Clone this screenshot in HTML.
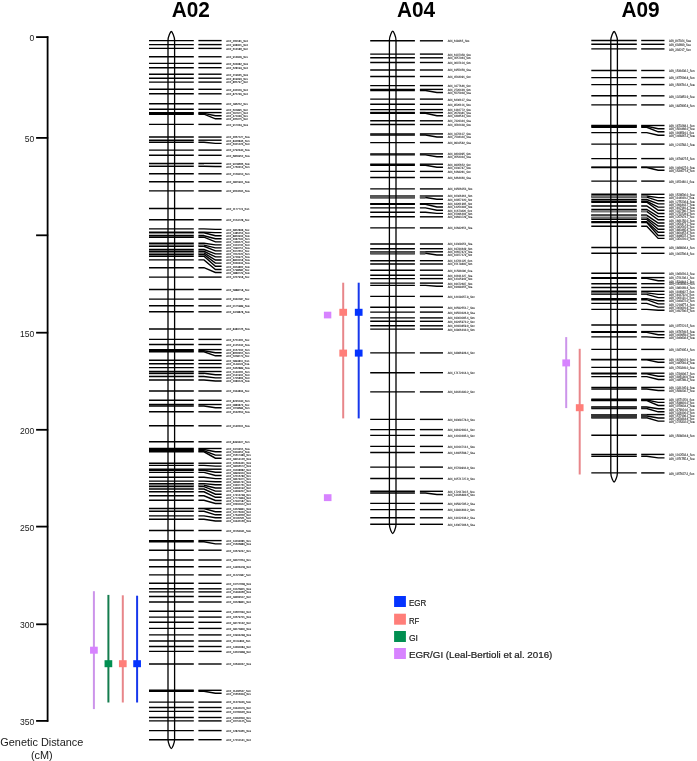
<!DOCTYPE html><html><head><meta charset="utf-8"><title>QTL map</title><style>html,body{margin:0;padding:0;background:#fff;}body{width:697px;height:761px;overflow:hidden;}svg{display:block;will-change:opacity;opacity:0.999;font-family:"Liberation Sans",sans-serif;}text{-webkit-font-smoothing:antialiased;}.lab{opacity:0.999;will-change:opacity;}</style></head><body>
<svg width="697" height="761" viewBox="0 0 697 761">
<rect width="697" height="761" fill="#fff"/>
<g stroke="#000" stroke-width="1.8" fill="none">
<line x1="47.6" y1="36.2" x2="47.6" y2="721.8"/>
<line x1="36.1" y1="37.1" x2="48.2" y2="37.1"/>
<line x1="36.1" y1="137.9" x2="48.2" y2="137.9"/>
<line x1="36.1" y1="235.3" x2="48.2" y2="235.3"/>
<line x1="36.1" y1="332.7" x2="48.2" y2="332.7"/>
<line x1="36.1" y1="429.8" x2="48.2" y2="429.8"/>
<line x1="36.1" y1="526.6" x2="48.2" y2="526.6"/>
<line x1="36.1" y1="624.3" x2="48.2" y2="624.3"/>
<line x1="36.1" y1="720.9" x2="48.2" y2="720.9"/>
</g>
<g class="lab" font-size="8.6" fill="#1a1a1a" text-anchor="end">
<text x="34.4" y="41.1">0</text>
<text x="34.4" y="141.9">50</text>
<text x="34.4" y="336.7">150</text>
<text x="34.4" y="433.8">200</text>
<text x="34.4" y="530.6">250</text>
<text x="34.4" y="628.3">300</text>
<text x="34.4" y="724.9">350</text>
</g>
<g class="lab"><text x="41.8" y="745.9" font-size="10.9" fill="#1a1a1a" text-anchor="middle">Genetic Distance</text>
<text x="41.8" y="758.6" font-size="10.9" fill="#1a1a1a" text-anchor="middle">(cM)</text></g>
<g class="lab" font-size="22.6" font-weight="bold" fill="#000">
<text x="171.7" y="17.2" textLength="38.2" lengthAdjust="spacingAndGlyphs">A02</text>
<text x="396.9" y="17.2" textLength="38.2" lengthAdjust="spacingAndGlyphs">A04</text>
<text x="621.4" y="17.2" textLength="38.2" lengthAdjust="spacingAndGlyphs">A09</text>
</g>
<g stroke="#000" stroke-width="1.4" fill="none">
<line x1="149.0" y1="40.6" x2="193.8" y2="40.6"/>
<line x1="149.0" y1="44.6" x2="193.8" y2="44.6"/>
<line x1="149.0" y1="48.4" x2="193.8" y2="48.4"/>
<line x1="149.0" y1="56.75" x2="193.8" y2="56.75"/>
<line x1="149.0" y1="63.4" x2="193.8" y2="63.4"/>
<line x1="149.0" y1="67.7" x2="193.8" y2="67.7"/>
<line x1="149.0" y1="74.2" x2="193.8" y2="74.2"/>
<line x1="149.0" y1="78.2" x2="193.8" y2="78.2"/>
<line x1="149.0" y1="82.1" x2="193.8" y2="82.1"/>
<line x1="149.0" y1="89.3" x2="193.8" y2="89.3"/>
<line x1="149.0" y1="93.8" x2="193.8" y2="93.8"/>
<line x1="149.0" y1="103.8" x2="193.8" y2="103.8"/>
<line x1="149.0" y1="109.3" x2="193.8" y2="109.3"/>
<line x1="149.0" y1="112.6" x2="193.8" y2="112.6"/>
<line x1="149.0" y1="113.4" x2="193.8" y2="113.4"/>
<line x1="149.0" y1="114.2" x2="193.8" y2="114.2"/>
<line x1="149.0" y1="124.4" x2="193.8" y2="124.4"/>
<line x1="149.0" y1="137.05" x2="193.8" y2="137.05"/>
<line x1="149.0" y1="140.2" x2="193.8" y2="140.2"/>
<line x1="149.0" y1="142.3" x2="193.8" y2="142.3"/>
<line x1="149.0" y1="150.1" x2="193.8" y2="150.1"/>
<line x1="149.0" y1="155.3" x2="193.8" y2="155.3"/>
<line x1="149.0" y1="163.4" x2="193.8" y2="163.4"/>
<line x1="149.0" y1="166.2" x2="193.8" y2="166.2"/>
<line x1="149.0" y1="173.8" x2="193.8" y2="173.8"/>
<line x1="149.0" y1="181.7" x2="193.8" y2="181.7"/>
<line x1="149.0" y1="190.9" x2="193.8" y2="190.9"/>
<line x1="149.0" y1="208.5" x2="193.8" y2="208.5"/>
<line x1="149.0" y1="219.8" x2="193.8" y2="219.8"/>
<line x1="149.0" y1="228.9" x2="193.8" y2="228.9"/>
<line x1="149.0" y1="232.1" x2="193.8" y2="232.1"/>
<line x1="149.0" y1="232.8" x2="193.8" y2="232.8"/>
<line x1="149.0" y1="235.8" x2="193.8" y2="235.8"/>
<line x1="149.0" y1="237.2" x2="193.8" y2="237.2"/>
<line x1="149.0" y1="243.3" x2="193.8" y2="243.3"/>
<line x1="149.0" y1="245.1" x2="193.8" y2="245.1"/>
<line x1="149.0" y1="246.3" x2="193.8" y2="246.3"/>
<line x1="149.0" y1="249.5" x2="193.8" y2="249.5"/>
<line x1="149.0" y1="251.3" x2="193.8" y2="251.3"/>
<line x1="149.0" y1="253" x2="193.8" y2="253"/>
<line x1="149.0" y1="254.5" x2="193.8" y2="254.5"/>
<line x1="149.0" y1="256.2" x2="193.8" y2="256.2"/>
<line x1="149.0" y1="259.9" x2="193.8" y2="259.9"/>
<line x1="149.0" y1="267.7" x2="193.8" y2="267.7"/>
<line x1="149.0" y1="277.1" x2="193.8" y2="277.1"/>
<line x1="149.0" y1="289.5" x2="193.8" y2="289.5"/>
<line x1="149.0" y1="299.1" x2="193.8" y2="299.1"/>
<line x1="149.0" y1="305.8" x2="193.8" y2="305.8"/>
<line x1="149.0" y1="311.8" x2="193.8" y2="311.8"/>
<line x1="149.0" y1="329" x2="193.8" y2="329"/>
<line x1="149.0" y1="339.4" x2="193.8" y2="339.4"/>
<line x1="149.0" y1="344.5" x2="193.8" y2="344.5"/>
<line x1="149.0" y1="349.6" x2="193.8" y2="349.6"/>
<line x1="149.0" y1="350.7" x2="193.8" y2="350.7"/>
<line x1="149.0" y1="351.8" x2="193.8" y2="351.8"/>
<line x1="149.0" y1="360.3" x2="193.8" y2="360.3"/>
<line x1="149.0" y1="363.7" x2="193.8" y2="363.7"/>
<line x1="149.0" y1="367.6" x2="193.8" y2="367.6"/>
<line x1="149.0" y1="371.5" x2="193.8" y2="371.5"/>
<line x1="149.0" y1="373.3" x2="193.8" y2="373.3"/>
<line x1="149.0" y1="376.5" x2="193.8" y2="376.5"/>
<line x1="149.0" y1="380" x2="193.8" y2="380"/>
<line x1="149.0" y1="391" x2="193.8" y2="391"/>
<line x1="149.0" y1="400.3" x2="193.8" y2="400.3"/>
<line x1="149.0" y1="404.5" x2="193.8" y2="404.5"/>
<line x1="149.0" y1="406" x2="193.8" y2="406"/>
<line x1="149.0" y1="411.8" x2="193.8" y2="411.8"/>
<line x1="149.0" y1="425.8" x2="193.8" y2="425.8"/>
<line x1="149.0" y1="441.8" x2="193.8" y2="441.8"/>
<line x1="149.0" y1="448.5" x2="193.8" y2="448.5"/>
<line x1="149.0" y1="449.5" x2="193.8" y2="449.5"/>
<line x1="149.0" y1="450.8" x2="193.8" y2="450.8"/>
<line x1="149.0" y1="451.8" x2="193.8" y2="451.8"/>
<line x1="149.0" y1="463.2" x2="193.8" y2="463.2"/>
<line x1="149.0" y1="465.4" x2="193.8" y2="465.4"/>
<line x1="149.0" y1="469.2" x2="193.8" y2="469.2"/>
<line x1="149.0" y1="470.3" x2="193.8" y2="470.3"/>
<line x1="149.0" y1="472.4" x2="193.8" y2="472.4"/>
<line x1="149.0" y1="477.2" x2="193.8" y2="477.2"/>
<line x1="149.0" y1="481.1" x2="193.8" y2="481.1"/>
<line x1="149.0" y1="483.6" x2="193.8" y2="483.6"/>
<line x1="149.0" y1="485.3" x2="193.8" y2="485.3"/>
<line x1="149.0" y1="486.6" x2="193.8" y2="486.6"/>
<line x1="149.0" y1="489.0" x2="193.8" y2="489.0"/>
<line x1="149.0" y1="491.8" x2="193.8" y2="491.8"/>
<line x1="149.0" y1="495.8" x2="193.8" y2="495.8"/>
<line x1="149.0" y1="500.3" x2="193.8" y2="500.3"/>
<line x1="149.0" y1="508.4" x2="193.8" y2="508.4"/>
<line x1="149.0" y1="508.6" x2="193.8" y2="508.6"/>
<line x1="149.0" y1="511.3" x2="193.8" y2="511.3"/>
<line x1="149.0" y1="515.9" x2="193.8" y2="515.9"/>
<line x1="149.0" y1="519.2" x2="193.8" y2="519.2"/>
<line x1="149.0" y1="530.5" x2="193.8" y2="530.5"/>
<line x1="149.0" y1="540.6" x2="193.8" y2="540.6"/>
<line x1="149.0" y1="541.8" x2="193.8" y2="541.8"/>
<line x1="149.0" y1="550.2" x2="193.8" y2="550.2"/>
<line x1="149.0" y1="560" x2="193.8" y2="560"/>
<line x1="149.0" y1="566.7" x2="193.8" y2="566.7"/>
<line x1="149.0" y1="574.9" x2="193.8" y2="574.9"/>
<line x1="149.0" y1="583.3" x2="193.8" y2="583.3"/>
<line x1="149.0" y1="588.8" x2="193.8" y2="588.8"/>
<line x1="149.0" y1="591.9" x2="193.8" y2="591.9"/>
<line x1="149.0" y1="596.5" x2="193.8" y2="596.5"/>
<line x1="149.0" y1="602" x2="193.8" y2="602"/>
<line x1="149.0" y1="611.3" x2="193.8" y2="611.3"/>
<line x1="149.0" y1="617.1" x2="193.8" y2="617.1"/>
<line x1="149.0" y1="622.3" x2="193.8" y2="622.3"/>
<line x1="149.0" y1="628.4" x2="193.8" y2="628.4"/>
<line x1="149.0" y1="634.9" x2="193.8" y2="634.9"/>
<line x1="149.0" y1="641" x2="193.8" y2="641"/>
<line x1="149.0" y1="646.5" x2="193.8" y2="646.5"/>
<line x1="149.0" y1="651.4" x2="193.8" y2="651.4"/>
<line x1="149.0" y1="664" x2="193.8" y2="664"/>
<line x1="149.0" y1="690.3" x2="193.8" y2="690.3"/>
<line x1="149.0" y1="691.3" x2="193.8" y2="691.3"/>
<line x1="149.0" y1="702.1" x2="193.8" y2="702.1"/>
<line x1="149.0" y1="707.5" x2="193.8" y2="707.5"/>
<line x1="149.0" y1="711.4" x2="193.8" y2="711.4"/>
<line x1="149.0" y1="717.5" x2="193.8" y2="717.5"/>
<line x1="149.0" y1="720.9" x2="193.8" y2="720.9"/>
<line x1="149.0" y1="730.6" x2="193.8" y2="730.6"/>
<line x1="149.0" y1="739.7" x2="193.8" y2="739.7"/>
<line x1="198.4" y1="40.6" x2="221.6" y2="40.6"/>
<line x1="198.4" y1="44.6" x2="221.6" y2="44.6"/>
<line x1="198.4" y1="48.4" x2="221.6" y2="48.4"/>
<line x1="198.4" y1="56.75" x2="221.6" y2="56.75"/>
<line x1="198.4" y1="63.4" x2="221.6" y2="63.4"/>
<line x1="198.4" y1="67.7" x2="221.6" y2="67.7"/>
<line x1="198.4" y1="74.2" x2="221.6" y2="74.2"/>
<line x1="198.4" y1="78.2" x2="221.6" y2="78.2"/>
<line x1="198.4" y1="82.1" x2="221.6" y2="82.1"/>
<line x1="198.4" y1="89.3" x2="221.6" y2="89.3"/>
<line x1="198.4" y1="93.8" x2="221.6" y2="93.8"/>
<line x1="198.4" y1="103.8" x2="221.6" y2="103.8"/>
<line x1="198.4" y1="109.3" x2="221.6" y2="109.3"/>
<line x1="198.4" y1="112.6" x2="221.6" y2="112.6"/>
<polyline points="198.4,113.4 204.0,113.4 215.4,115.7 221.6,115.7"/>
<polyline points="198.4,114.2 204.0,114.2 215.4,118.8 221.6,118.8"/>
<line x1="198.4" y1="124.4" x2="221.6" y2="124.4"/>
<line x1="198.4" y1="137.05" x2="221.6" y2="137.05"/>
<line x1="198.4" y1="140.2" x2="221.6" y2="140.2"/>
<polyline points="198.4,142.3 204.0,142.3 215.4,143.35 221.6,143.35"/>
<line x1="198.4" y1="150.1" x2="221.6" y2="150.1"/>
<line x1="198.4" y1="155.3" x2="221.6" y2="155.3"/>
<line x1="198.4" y1="163.4" x2="221.6" y2="163.4"/>
<polyline points="198.4,166.2 204.0,166.2 215.4,166.5 221.6,166.5"/>
<line x1="198.4" y1="173.8" x2="221.6" y2="173.8"/>
<line x1="198.4" y1="181.7" x2="221.6" y2="181.7"/>
<line x1="198.4" y1="190.9" x2="221.6" y2="190.9"/>
<line x1="198.4" y1="208.5" x2="221.6" y2="208.5"/>
<line x1="198.4" y1="219.8" x2="221.6" y2="219.8"/>
<polyline points="198.4,228.9 204.0,228.9 215.4,229.4 221.6,229.4"/>
<polyline points="198.4,232.1 204.0,232.1 215.4,232.6 221.6,232.6"/>
<polyline points="198.4,232.8 204.0,232.8 215.4,235.7 221.6,235.7"/>
<polyline points="198.4,235.8 204.0,235.8 215.4,238.8 221.6,238.8"/>
<polyline points="198.4,237.2 204.0,237.2 215.4,241.9 221.6,241.9"/>
<polyline points="198.4,243.3 204.0,243.3 215.4,244.9 221.6,244.9"/>
<polyline points="198.4,245.1 204.0,245.1 215.4,247.9 221.6,247.9"/>
<polyline points="198.4,246.3 204.0,246.3 215.4,250.9 221.6,250.9"/>
<polyline points="198.4,249.5 204.0,249.5 215.4,253.9 221.6,253.9"/>
<polyline points="198.4,251.3 204.0,251.3 215.4,256.9 221.6,256.9"/>
<polyline points="198.4,253 204.0,253 215.4,260 221.6,260"/>
<polyline points="198.4,254.5 204.0,254.5 215.4,263.1 221.6,263.1"/>
<polyline points="198.4,256.2 204.0,256.2 215.4,266.2 221.6,266.2"/>
<polyline points="198.4,259.9 204.0,259.9 215.4,269.5 221.6,269.5"/>
<polyline points="198.4,267.7 204.0,267.7 215.4,272.5 221.6,272.5"/>
<line x1="198.4" y1="277.1" x2="221.6" y2="277.1"/>
<line x1="198.4" y1="289.5" x2="221.6" y2="289.5"/>
<line x1="198.4" y1="299.1" x2="221.6" y2="299.1"/>
<line x1="198.4" y1="305.8" x2="221.6" y2="305.8"/>
<line x1="198.4" y1="311.8" x2="221.6" y2="311.8"/>
<line x1="198.4" y1="329" x2="221.6" y2="329"/>
<line x1="198.4" y1="339.4" x2="221.6" y2="339.4"/>
<line x1="198.4" y1="344.5" x2="221.6" y2="344.5"/>
<line x1="198.4" y1="349.6" x2="221.6" y2="349.6"/>
<polyline points="198.4,350.7 204.0,350.7 215.4,352.7 221.6,352.7"/>
<polyline points="198.4,351.8 204.0,351.8 215.4,355.8 221.6,355.8"/>
<line x1="198.4" y1="360.3" x2="221.6" y2="360.3"/>
<line x1="198.4" y1="363.7" x2="221.6" y2="363.7"/>
<line x1="198.4" y1="367.6" x2="221.6" y2="367.6"/>
<line x1="198.4" y1="371.5" x2="221.6" y2="371.5"/>
<polyline points="198.4,373.3 204.0,373.3 215.4,374.8 221.6,374.8"/>
<polyline points="198.4,376.5 204.0,376.5 215.4,377.9 221.6,377.9"/>
<polyline points="198.4,380 204.0,380 215.4,381 221.6,381"/>
<line x1="198.4" y1="391" x2="221.6" y2="391"/>
<line x1="198.4" y1="400.3" x2="221.6" y2="400.3"/>
<line x1="198.4" y1="404.5" x2="221.6" y2="404.5"/>
<polyline points="198.4,406 204.0,406 215.4,407.8 221.6,407.8"/>
<line x1="198.4" y1="411.8" x2="221.6" y2="411.8"/>
<line x1="198.4" y1="425.8" x2="221.6" y2="425.8"/>
<line x1="198.4" y1="441.8" x2="221.6" y2="441.8"/>
<line x1="198.4" y1="448.5" x2="221.6" y2="448.5"/>
<polyline points="198.4,449.5 204.0,449.5 215.4,451.8 221.6,451.8"/>
<polyline points="198.4,450.8 204.0,450.8 215.4,455.1 221.6,455.1"/>
<polyline points="198.4,451.8 204.0,451.8 215.4,458.2 221.6,458.2"/>
<line x1="198.4" y1="463.2" x2="221.6" y2="463.2"/>
<polyline points="198.4,465.4 204.0,465.4 215.4,466.1 221.6,466.1"/>
<line x1="198.4" y1="469.2" x2="221.6" y2="469.2"/>
<polyline points="198.4,470.3 204.0,470.3 215.4,472.3 221.6,472.3"/>
<polyline points="198.4,472.4 204.0,472.4 215.4,475.5 221.6,475.5"/>
<polyline points="198.4,477.2 204.0,477.2 215.4,478.6 221.6,478.6"/>
<polyline points="198.4,481.1 204.0,481.1 215.4,481.7 221.6,481.7"/>
<polyline points="198.4,483.6 204.0,483.6 215.4,484.8 221.6,484.8"/>
<polyline points="198.4,485.3 204.0,485.3 215.4,488 221.6,488"/>
<polyline points="198.4,486.6 204.0,486.6 215.4,491.1 221.6,491.1"/>
<polyline points="198.4,489.0 204.0,489.0 215.4,494.2 221.6,494.2"/>
<polyline points="198.4,491.8 204.0,491.8 215.4,497.3 221.6,497.3"/>
<polyline points="198.4,495.8 204.0,495.8 215.4,500.5 221.6,500.5"/>
<polyline points="198.4,500.3 204.0,500.3 215.4,503.5 221.6,503.5"/>
<line x1="198.4" y1="508.4" x2="221.6" y2="508.4"/>
<polyline points="198.4,508.6 204.0,508.6 215.4,511.7 221.6,511.7"/>
<polyline points="198.4,511.3 204.0,511.3 215.4,514.8 221.6,514.8"/>
<polyline points="198.4,515.9 204.0,515.9 215.4,517.8 221.6,517.8"/>
<polyline points="198.4,519.2 204.0,519.2 215.4,521 221.6,521"/>
<line x1="198.4" y1="530.5" x2="221.6" y2="530.5"/>
<line x1="198.4" y1="540.6" x2="221.6" y2="540.6"/>
<polyline points="198.4,541.8 204.0,541.8 215.4,543.9 221.6,543.9"/>
<line x1="198.4" y1="550.2" x2="221.6" y2="550.2"/>
<line x1="198.4" y1="560" x2="221.6" y2="560"/>
<line x1="198.4" y1="566.7" x2="221.6" y2="566.7"/>
<line x1="198.4" y1="574.9" x2="221.6" y2="574.9"/>
<line x1="198.4" y1="583.3" x2="221.6" y2="583.3"/>
<line x1="198.4" y1="588.8" x2="221.6" y2="588.8"/>
<line x1="198.4" y1="591.9" x2="221.6" y2="591.9"/>
<line x1="198.4" y1="596.5" x2="221.6" y2="596.5"/>
<line x1="198.4" y1="602" x2="221.6" y2="602"/>
<line x1="198.4" y1="611.3" x2="221.6" y2="611.3"/>
<line x1="198.4" y1="617.1" x2="221.6" y2="617.1"/>
<line x1="198.4" y1="622.3" x2="221.6" y2="622.3"/>
<line x1="198.4" y1="628.4" x2="221.6" y2="628.4"/>
<line x1="198.4" y1="634.9" x2="221.6" y2="634.9"/>
<line x1="198.4" y1="641" x2="221.6" y2="641"/>
<line x1="198.4" y1="646.5" x2="221.6" y2="646.5"/>
<line x1="198.4" y1="651.4" x2="221.6" y2="651.4"/>
<line x1="198.4" y1="664" x2="221.6" y2="664"/>
<line x1="198.4" y1="690.3" x2="221.6" y2="690.3"/>
<polyline points="198.4,691.3 204.0,691.3 215.4,693.3 221.6,693.3"/>
<line x1="198.4" y1="702.1" x2="221.6" y2="702.1"/>
<line x1="198.4" y1="707.5" x2="221.6" y2="707.5"/>
<line x1="198.4" y1="711.4" x2="221.6" y2="711.4"/>
<line x1="198.4" y1="717.5" x2="221.6" y2="717.5"/>
<line x1="198.4" y1="720.9" x2="221.6" y2="720.9"/>
<line x1="198.4" y1="730.6" x2="221.6" y2="730.6"/>
<line x1="198.4" y1="739.7" x2="221.6" y2="739.7"/>
</g>
<rect x="149.0" y="233.8" width="44.8" height="1.00" fill="#b0b0b0"/>
<rect x="198.4" y="233.8" width="5.6" height="1.00" fill="#b0b0b0"/>
<rect x="149.0" y="244.4" width="44.8" height="1.20" fill="#8a8a8a"/>
<rect x="198.4" y="244.4" width="5.6" height="1.20" fill="#8a8a8a"/>
<rect x="149.0" y="252.3" width="44.8" height="1.40" fill="#8a8a8a"/>
<rect x="198.4" y="252.3" width="5.6" height="1.40" fill="#8a8a8a"/>
<rect x="149.0" y="164.2" width="44.8" height="1.20" fill="#9a9a9a"/>
<rect x="198.4" y="164.2" width="5.6" height="1.20" fill="#9a9a9a"/>
<rect x="149.0" y="374.4" width="44.8" height="1.20" fill="#b0b0b0"/>
<rect x="198.4" y="374.4" width="5.6" height="1.20" fill="#b0b0b0"/>
<rect x="149.0" y="484.8" width="44.8" height="1.00" fill="#909090"/>
<rect x="198.4" y="484.8" width="5.6" height="1.00" fill="#909090"/>
<path d="M168.00,40.5 C168.00,36.5 170.60,31.5 171.30,31.5 C172.00,31.5 174.60,36.5 174.60,40.5 L174.60,739.6 C174.60,743.6 172.00,748.6 171.30,748.6 C170.60,748.6 168.00,743.6 168.00,739.6 Z" fill="none" stroke="#000" stroke-width="1.3"/>
<g class="lab" font-size="11" fill="#333" stroke="#333" stroke-width="0.4" text-rendering="geometricPrecision">
<text transform="translate(226.3,41.90) scale(0.2476,0.27)">A02_260181_Sxo</text>
<text transform="translate(226.3,45.90) scale(0.2476,0.27)">A02_908301_Sxo</text>
<text transform="translate(226.3,49.70) scale(0.2476,0.27)">A02_613186_Sxn</text>
<text transform="translate(226.3,58.05) scale(0.2476,0.27)">A02_913909_Sxx</text>
<text transform="translate(226.3,64.70) scale(0.2476,0.27)">A02_603082_Sxe</text>
<text transform="translate(226.3,69.00) scale(0.2476,0.27)">A02_628194_Sxo</text>
<text transform="translate(226.3,75.50) scale(0.2476,0.27)">A02_219935_Sxe</text>
<text transform="translate(226.3,79.50) scale(0.2476,0.27)">A02_819093_Sxx</text>
<text transform="translate(226.3,83.40) scale(0.2476,0.27)">A02_865797_Sxn</text>
<text transform="translate(226.3,90.60) scale(0.2476,0.27)">A02_432319_Sxo</text>
<text transform="translate(226.3,95.10) scale(0.2476,0.27)">A02_875749_Sxo</text>
<text transform="translate(226.3,105.10) scale(0.2476,0.27)">A02_186252_Sxx</text>
<text transform="translate(226.3,110.60) scale(0.2476,0.27)">A02_601895_Sxn</text>
<text transform="translate(226.3,114.00) scale(0.2476,0.27)">A02_597971_Sxo</text>
<text transform="translate(226.3,117.00) scale(0.2476,0.27)">A02_471049_Sxx</text>
<text transform="translate(226.3,120.10) scale(0.2476,0.27)">A02_465075_Sxn</text>
<text transform="translate(226.3,125.70) scale(0.2476,0.27)">A02_917034_Sxa</text>
<text transform="translate(226.3,138.35) scale(0.2476,0.27)">A02_3667127_Sxa</text>
<text transform="translate(226.3,141.50) scale(0.2476,0.27)">A02_8426846_Sxn</text>
<text transform="translate(226.3,144.65) scale(0.2476,0.27)">A02_6321223_Sxo</text>
<text transform="translate(226.3,151.40) scale(0.2476,0.27)">A02_0792440_Sxa</text>
<text transform="translate(226.3,156.60) scale(0.2476,0.27)">A02_6859952_Sxa</text>
<text transform="translate(226.3,164.70) scale(0.2476,0.27)">A02_9078666_Sxe</text>
<text transform="translate(226.3,167.80) scale(0.2476,0.27)">A02_1760313_Sxn</text>
<text transform="translate(226.3,175.10) scale(0.2476,0.27)">A02_2159010_Sxn</text>
<text transform="translate(226.3,183.00) scale(0.2476,0.27)">A02_2815901_Sxe</text>
<text transform="translate(226.3,192.20) scale(0.2476,0.27)">A02_9624595_Sxa</text>
<text transform="translate(226.3,209.80) scale(0.2476,0.27)">A02_1177774_Sxn</text>
<text transform="translate(226.3,221.10) scale(0.2476,0.27)">A02_2154728_Sxx</text>
<text transform="translate(226.3,230.70) scale(0.2476,0.27)">A02_3852808_Sxx</text>
<text transform="translate(226.3,233.90) scale(0.2476,0.27)">A02_1485253_Sxo</text>
<text transform="translate(226.3,237.00) scale(0.2476,0.27)">A02_8853933_Sxe</text>
<text transform="translate(226.3,240.10) scale(0.2476,0.27)">A02_3387500_Sxn</text>
<text transform="translate(226.3,243.20) scale(0.2476,0.27)">A02_7439575_Sxo</text>
<text transform="translate(226.3,246.20) scale(0.2476,0.27)">A02_1313735_Sxo</text>
<text transform="translate(226.3,249.20) scale(0.2476,0.27)">A02_7990751_Sxa</text>
<text transform="translate(226.3,252.20) scale(0.2476,0.27)">A02_6372651_Sxx</text>
<text transform="translate(226.3,255.20) scale(0.2476,0.27)">A02_7612220_Sxn</text>
<text transform="translate(226.3,258.20) scale(0.2476,0.27)">A02_9729975_Sxa</text>
<text transform="translate(226.3,261.30) scale(0.2476,0.27)">A02_8820018_Sxa</text>
<text transform="translate(226.3,264.40) scale(0.2476,0.27)">A02_6330434_Sxa</text>
<text transform="translate(226.3,267.50) scale(0.2476,0.27)">A02_3954862_Sxe</text>
<text transform="translate(226.3,270.80) scale(0.2476,0.27)">A02_5798682_Sxx</text>
<text transform="translate(226.3,273.80) scale(0.2476,0.27)">A02_2880729_Sxe</text>
<text transform="translate(226.3,278.40) scale(0.2476,0.27)">A02_2227918_Sxx</text>
<text transform="translate(226.3,290.80) scale(0.2476,0.27)">A02_5888718_Sxx</text>
<text transform="translate(226.3,300.40) scale(0.2476,0.27)">A02_3340187_Sxx</text>
<text transform="translate(226.3,307.10) scale(0.2476,0.27)">A02_0175989_Sxe</text>
<text transform="translate(226.3,313.10) scale(0.2476,0.27)">A02_3478878_Sxe</text>
<text transform="translate(226.3,330.30) scale(0.2476,0.27)">A02_8483726_Sxa</text>
<text transform="translate(226.3,340.70) scale(0.2476,0.27)">A02_6751361_Sxx</text>
<text transform="translate(226.3,345.80) scale(0.2476,0.27)">A02_4125242_Sxa</text>
<text transform="translate(226.3,350.90) scale(0.2476,0.27)">A02_3167232_Sxn</text>
<text transform="translate(226.3,354.00) scale(0.2476,0.27)">A02_8656355_Sxn</text>
<text transform="translate(226.3,357.10) scale(0.2476,0.27)">A02_5058770_Sxx</text>
<text transform="translate(226.3,361.60) scale(0.2476,0.27)">A02_5894811_Sxn</text>
<text transform="translate(226.3,365.00) scale(0.2476,0.27)">A02_1144024_Sxa</text>
<text transform="translate(226.3,368.90) scale(0.2476,0.27)">A02_6462889_Sxa</text>
<text transform="translate(226.3,373.00) scale(0.2476,0.27)">A02_5140261_Sxn</text>
<text transform="translate(226.3,376.10) scale(0.2476,0.27)">A02_0141931_Sxo</text>
<text transform="translate(226.3,379.20) scale(0.2476,0.27)">A02_1705864_Sxo</text>
<text transform="translate(226.3,382.30) scale(0.2476,0.27)">A02_2083124_Sxe</text>
<text transform="translate(226.3,392.30) scale(0.2476,0.27)">A02_2344834_Sxx</text>
<text transform="translate(226.3,401.60) scale(0.2476,0.27)">A02_8245040_Sxn</text>
<text transform="translate(226.3,405.80) scale(0.2476,0.27)">A02_0883873_Sxx</text>
<text transform="translate(226.3,409.10) scale(0.2476,0.27)">A02_1678684_Sxn</text>
<text transform="translate(226.3,413.10) scale(0.2476,0.27)">A02_3532650_Sxa</text>
<text transform="translate(226.3,427.10) scale(0.2476,0.27)">A02_0146201_Sxa</text>
<text transform="translate(226.3,443.10) scale(0.2476,0.27)">A02_8493407_Sxn</text>
<text transform="translate(226.3,450.00) scale(0.2476,0.27)">A02_2470455_Sxa</text>
<text transform="translate(226.3,453.10) scale(0.2476,0.27)">A02_5304352_Sxe</text>
<text transform="translate(226.3,456.40) scale(0.2476,0.27)">A02_15617483_Sxx</text>
<text transform="translate(226.3,459.50) scale(0.2476,0.27)">A02_18014126_Sxa</text>
<text transform="translate(226.3,464.30) scale(0.2476,0.27)">A02_10604431_Sxe</text>
<text transform="translate(226.3,467.40) scale(0.2476,0.27)">A02_18296572_Sxe</text>
<text transform="translate(226.3,470.60) scale(0.2476,0.27)">A02_19208682_Sxo</text>
<text transform="translate(226.3,473.60) scale(0.2476,0.27)">A02_18909310_Sxe</text>
<text transform="translate(226.3,476.80) scale(0.2476,0.27)">A02_12516780_Sxx</text>
<text transform="translate(226.3,479.90) scale(0.2476,0.27)">A02_18374071_Sxx</text>
<text transform="translate(226.3,483.00) scale(0.2476,0.27)">A02_18181741_Sxe</text>
<text transform="translate(226.3,486.10) scale(0.2476,0.27)">A02_13337761_Sxo</text>
<text transform="translate(226.3,489.30) scale(0.2476,0.27)">A02_14093192_Sxn</text>
<text transform="translate(226.3,492.40) scale(0.2476,0.27)">A02_14499207_Sxo</text>
<text transform="translate(226.3,495.50) scale(0.2476,0.27)">A02_17413748_Sxx</text>
<text transform="translate(226.3,498.60) scale(0.2476,0.27)">A02_17771834_Sxo</text>
<text transform="translate(226.3,501.80) scale(0.2476,0.27)">A02_17047187_Sxx</text>
<text transform="translate(226.3,504.80) scale(0.2476,0.27)">A02_16331912_Sxo</text>
<text transform="translate(226.3,509.90) scale(0.2476,0.27)">A02_14529841_Sxe</text>
<text transform="translate(226.3,513.00) scale(0.2476,0.27)">A02_13776020_Sxo</text>
<text transform="translate(226.3,516.10) scale(0.2476,0.27)">A02_17642656_Sxn</text>
<text transform="translate(226.3,519.10) scale(0.2476,0.27)">A02_11505561_Sxo</text>
<text transform="translate(226.3,522.30) scale(0.2476,0.27)">A02_10445166_Sxa</text>
<text transform="translate(226.3,531.80) scale(0.2476,0.27)">A02_11564041_Sxe</text>
<text transform="translate(226.3,541.90) scale(0.2476,0.27)">A02_14234685_Sxx</text>
<text transform="translate(226.3,545.20) scale(0.2476,0.27)">A02_15606883_Sxa</text>
<text transform="translate(226.3,551.50) scale(0.2476,0.27)">A02_10679247_Sxx</text>
<text transform="translate(226.3,561.30) scale(0.2476,0.27)">A02_18227654_Sxx</text>
<text transform="translate(226.3,568.00) scale(0.2476,0.27)">A02_14463478_Sxo</text>
<text transform="translate(226.3,576.20) scale(0.2476,0.27)">A02_11221387_Sxn</text>
<text transform="translate(226.3,584.60) scale(0.2476,0.27)">A02_13757628_Sxe</text>
<text transform="translate(226.3,590.10) scale(0.2476,0.27)">A02_13125815_Sxa</text>
<text transform="translate(226.3,593.20) scale(0.2476,0.27)">A02_15493066_Sxa</text>
<text transform="translate(226.3,597.80) scale(0.2476,0.27)">A02_18364507_Sxn</text>
<text transform="translate(226.3,603.30) scale(0.2476,0.27)">A02_19528831_Sxo</text>
<text transform="translate(226.3,612.60) scale(0.2476,0.27)">A02_13667640_Sxo</text>
<text transform="translate(226.3,618.40) scale(0.2476,0.27)">A02_10679701_Sxa</text>
<text transform="translate(226.3,623.60) scale(0.2476,0.27)">A02_18773132_Sxn</text>
<text transform="translate(226.3,629.70) scale(0.2476,0.27)">A02_18171800_Sxa</text>
<text transform="translate(226.3,636.20) scale(0.2476,0.27)">A02_13904248_Sxa</text>
<text transform="translate(226.3,642.30) scale(0.2476,0.27)">A02_11114893_Sxn</text>
<text transform="translate(226.3,647.80) scale(0.2476,0.27)">A02_14390084_Sxn</text>
<text transform="translate(226.3,652.70) scale(0.2476,0.27)">A02_14537838_Sxn</text>
<text transform="translate(226.3,665.30) scale(0.2476,0.27)">A02_10640037_Sxa</text>
<text transform="translate(226.3,691.70) scale(0.2476,0.27)">A02_11436537_Sxn</text>
<text transform="translate(226.3,694.60) scale(0.2476,0.27)">A02_15656304_Sxx</text>
<text transform="translate(226.3,703.40) scale(0.2476,0.27)">A02_11373433_Sxe</text>
<text transform="translate(226.3,708.80) scale(0.2476,0.27)">A02_13441979_Sxn</text>
<text transform="translate(226.3,712.70) scale(0.2476,0.27)">A02_13760926_Sxa</text>
<text transform="translate(226.3,718.80) scale(0.2476,0.27)">A02_13092600_Sxx</text>
<text transform="translate(226.3,722.20) scale(0.2476,0.27)">A02_16751125_Sxa</text>
<text transform="translate(226.3,731.90) scale(0.2476,0.27)">A02_12870465_Sxa</text>
<text transform="translate(226.3,741.00) scale(0.2476,0.27)">A02_17210141_Sxo</text>
</g>
<g stroke="#000" stroke-width="1.4" fill="none">
<line x1="370.2" y1="40.8" x2="414.9" y2="40.8"/>
<line x1="370.2" y1="54.1" x2="414.9" y2="54.1"/>
<line x1="370.2" y1="57.8" x2="414.9" y2="57.8"/>
<line x1="370.2" y1="62.5" x2="414.9" y2="62.5"/>
<line x1="370.2" y1="70" x2="414.9" y2="70"/>
<line x1="370.2" y1="76.5" x2="414.9" y2="76.5"/>
<line x1="370.2" y1="85.6" x2="414.9" y2="85.6"/>
<line x1="370.2" y1="89.4" x2="414.9" y2="89.4"/>
<line x1="370.2" y1="90.5" x2="414.9" y2="90.5"/>
<line x1="370.2" y1="99.1" x2="414.9" y2="99.1"/>
<line x1="370.2" y1="104.3" x2="414.9" y2="104.3"/>
<line x1="370.2" y1="109.6" x2="414.9" y2="109.6"/>
<line x1="370.2" y1="112.6" x2="414.9" y2="112.6"/>
<line x1="370.2" y1="113.2" x2="414.9" y2="113.2"/>
<line x1="370.2" y1="120.8" x2="414.9" y2="120.8"/>
<line x1="370.2" y1="124.5" x2="414.9" y2="124.5"/>
<line x1="370.2" y1="133.9" x2="414.9" y2="133.9"/>
<line x1="370.2" y1="135" x2="414.9" y2="135"/>
<line x1="370.2" y1="142.6" x2="414.9" y2="142.6"/>
<line x1="370.2" y1="153.9" x2="414.9" y2="153.9"/>
<line x1="370.2" y1="154.9" x2="414.9" y2="154.9"/>
<line x1="370.2" y1="164.2" x2="414.9" y2="164.2"/>
<line x1="370.2" y1="165.2" x2="414.9" y2="165.2"/>
<line x1="370.2" y1="171.4" x2="414.9" y2="171.4"/>
<line x1="370.2" y1="177.5" x2="414.9" y2="177.5"/>
<line x1="370.2" y1="188.9" x2="414.9" y2="188.9"/>
<line x1="370.2" y1="196" x2="414.9" y2="196"/>
<line x1="370.2" y1="197.5" x2="414.9" y2="197.5"/>
<line x1="370.2" y1="203.7" x2="414.9" y2="203.7"/>
<line x1="370.2" y1="204.2" x2="414.9" y2="204.2"/>
<line x1="370.2" y1="207.9" x2="414.9" y2="207.9"/>
<line x1="370.2" y1="212.3" x2="414.9" y2="212.3"/>
<line x1="370.2" y1="216.8" x2="414.9" y2="216.8"/>
<line x1="370.2" y1="227.9" x2="414.9" y2="227.9"/>
<line x1="370.2" y1="244" x2="414.9" y2="244"/>
<line x1="370.2" y1="248.7" x2="414.9" y2="248.7"/>
<line x1="370.2" y1="251.8" x2="414.9" y2="251.8"/>
<line x1="370.2" y1="253.3" x2="414.9" y2="253.3"/>
<line x1="370.2" y1="260.7" x2="414.9" y2="260.7"/>
<line x1="370.2" y1="264" x2="414.9" y2="264"/>
<line x1="370.2" y1="270.2" x2="414.9" y2="270.2"/>
<line x1="370.2" y1="275.2" x2="414.9" y2="275.2"/>
<line x1="370.2" y1="278.6" x2="414.9" y2="278.6"/>
<line x1="370.2" y1="283.1" x2="414.9" y2="283.1"/>
<line x1="370.2" y1="285.4" x2="414.9" y2="285.4"/>
<line x1="370.2" y1="296.4" x2="414.9" y2="296.4"/>
<line x1="370.2" y1="307.2" x2="414.9" y2="307.2"/>
<line x1="370.2" y1="312.1" x2="414.9" y2="312.1"/>
<line x1="370.2" y1="317.9" x2="414.9" y2="317.9"/>
<line x1="370.2" y1="321.3" x2="414.9" y2="321.3"/>
<line x1="370.2" y1="325.8" x2="414.9" y2="325.8"/>
<line x1="370.2" y1="329.1" x2="414.9" y2="329.1"/>
<line x1="370.2" y1="352.9" x2="414.9" y2="352.9"/>
<line x1="370.2" y1="372.7" x2="414.9" y2="372.7"/>
<line x1="370.2" y1="391.9" x2="414.9" y2="391.9"/>
<line x1="370.2" y1="419.4" x2="414.9" y2="419.4"/>
<line x1="370.2" y1="429.6" x2="414.9" y2="429.6"/>
<line x1="370.2" y1="435.4" x2="414.9" y2="435.4"/>
<line x1="370.2" y1="446.4" x2="414.9" y2="446.4"/>
<line x1="370.2" y1="452.5" x2="414.9" y2="452.5"/>
<line x1="370.2" y1="467.1" x2="414.9" y2="467.1"/>
<line x1="370.2" y1="478.5" x2="414.9" y2="478.5"/>
<line x1="370.2" y1="491.3" x2="414.9" y2="491.3"/>
<line x1="370.2" y1="493" x2="414.9" y2="493"/>
<line x1="370.2" y1="503.4" x2="414.9" y2="503.4"/>
<line x1="370.2" y1="509.6" x2="414.9" y2="509.6"/>
<line x1="370.2" y1="517.8" x2="414.9" y2="517.8"/>
<line x1="370.2" y1="524.3" x2="414.9" y2="524.3"/>
<line x1="419.9" y1="40.8" x2="443.0" y2="40.8"/>
<line x1="419.9" y1="54.1" x2="443.0" y2="54.1"/>
<line x1="419.9" y1="57.8" x2="443.0" y2="57.8"/>
<line x1="419.9" y1="62.5" x2="443.0" y2="62.5"/>
<line x1="419.9" y1="70" x2="443.0" y2="70"/>
<line x1="419.9" y1="76.5" x2="443.0" y2="76.5"/>
<line x1="419.9" y1="85.6" x2="443.0" y2="85.6"/>
<line x1="419.9" y1="89.4" x2="443.0" y2="89.4"/>
<polyline points="419.9,90.5 425.5,90.5 436.9,92.5 443.0,92.5"/>
<line x1="419.9" y1="99.1" x2="443.0" y2="99.1"/>
<line x1="419.9" y1="104.3" x2="443.0" y2="104.3"/>
<line x1="419.9" y1="109.6" x2="443.0" y2="109.6"/>
<line x1="419.9" y1="112.6" x2="443.0" y2="112.6"/>
<polyline points="419.9,113.2 425.5,113.2 436.9,115.8 443.0,115.8"/>
<line x1="419.9" y1="120.8" x2="443.0" y2="120.8"/>
<line x1="419.9" y1="124.5" x2="443.0" y2="124.5"/>
<line x1="419.9" y1="133.9" x2="443.0" y2="133.9"/>
<polyline points="419.9,135 425.5,135 436.9,137 443.0,137"/>
<line x1="419.9" y1="142.6" x2="443.0" y2="142.6"/>
<line x1="419.9" y1="153.9" x2="443.0" y2="153.9"/>
<polyline points="419.9,154.9 425.5,154.9 436.9,156.8 443.0,156.8"/>
<line x1="419.9" y1="164.2" x2="443.0" y2="164.2"/>
<polyline points="419.9,165.2 425.5,165.2 436.9,167.2 443.0,167.2"/>
<line x1="419.9" y1="171.4" x2="443.0" y2="171.4"/>
<line x1="419.9" y1="177.5" x2="443.0" y2="177.5"/>
<line x1="419.9" y1="188.9" x2="443.0" y2="188.9"/>
<line x1="419.9" y1="196" x2="443.0" y2="196"/>
<polyline points="419.9,197.5 425.5,197.5 436.9,199.2 443.0,199.2"/>
<line x1="419.9" y1="203.7" x2="443.0" y2="203.7"/>
<polyline points="419.9,204.2 425.5,204.2 436.9,207 443.0,207"/>
<polyline points="419.9,207.9 425.5,207.9 436.9,210.2 443.0,210.2"/>
<polyline points="419.9,212.3 425.5,212.3 436.9,213.4 443.0,213.4"/>
<line x1="419.9" y1="216.8" x2="443.0" y2="216.8"/>
<line x1="419.9" y1="227.9" x2="443.0" y2="227.9"/>
<line x1="419.9" y1="244" x2="443.0" y2="244"/>
<line x1="419.9" y1="248.7" x2="443.0" y2="248.7"/>
<line x1="419.9" y1="251.8" x2="443.0" y2="251.8"/>
<polyline points="419.9,253.3 425.5,253.3 436.9,255 443.0,255"/>
<line x1="419.9" y1="260.7" x2="443.0" y2="260.7"/>
<line x1="419.9" y1="264" x2="443.0" y2="264"/>
<line x1="419.9" y1="270.2" x2="443.0" y2="270.2"/>
<line x1="419.9" y1="275.2" x2="443.0" y2="275.2"/>
<line x1="419.9" y1="278.6" x2="443.0" y2="278.6"/>
<line x1="419.9" y1="283.1" x2="443.0" y2="283.1"/>
<polyline points="419.9,285.4 425.5,285.4 436.9,286.2 443.0,286.2"/>
<line x1="419.9" y1="296.4" x2="443.0" y2="296.4"/>
<line x1="419.9" y1="307.2" x2="443.0" y2="307.2"/>
<line x1="419.9" y1="312.1" x2="443.0" y2="312.1"/>
<line x1="419.9" y1="317.9" x2="443.0" y2="317.9"/>
<line x1="419.9" y1="321.3" x2="443.0" y2="321.3"/>
<line x1="419.9" y1="325.8" x2="443.0" y2="325.8"/>
<line x1="419.9" y1="329.1" x2="443.0" y2="329.1"/>
<line x1="419.9" y1="352.9" x2="443.0" y2="352.9"/>
<line x1="419.9" y1="372.7" x2="443.0" y2="372.7"/>
<line x1="419.9" y1="391.9" x2="443.0" y2="391.9"/>
<line x1="419.9" y1="419.4" x2="443.0" y2="419.4"/>
<line x1="419.9" y1="429.6" x2="443.0" y2="429.6"/>
<line x1="419.9" y1="435.4" x2="443.0" y2="435.4"/>
<line x1="419.9" y1="446.4" x2="443.0" y2="446.4"/>
<line x1="419.9" y1="452.5" x2="443.0" y2="452.5"/>
<line x1="419.9" y1="467.1" x2="443.0" y2="467.1"/>
<line x1="419.9" y1="478.5" x2="443.0" y2="478.5"/>
<line x1="419.9" y1="491.3" x2="443.0" y2="491.3"/>
<polyline points="419.9,493 425.5,493 436.9,494.5 443.0,494.5"/>
<line x1="419.9" y1="503.4" x2="443.0" y2="503.4"/>
<line x1="419.9" y1="509.6" x2="443.0" y2="509.6"/>
<line x1="419.9" y1="517.8" x2="443.0" y2="517.8"/>
<line x1="419.9" y1="524.3" x2="443.0" y2="524.3"/>
</g>
<rect x="370.2" y="195.1" width="44.7" height="3.50" fill="#575757"/>
<rect x="419.9" y="195.1" width="5.6" height="3.50" fill="#575757"/>
<rect x="370.2" y="251.2" width="44.7" height="3.50" fill="#575757"/>
<rect x="419.9" y="251.2" width="5.6" height="3.50" fill="#575757"/>
<rect x="370.2" y="110.4" width="44.7" height="1.20" fill="#b0b0b0"/>
<rect x="419.9" y="110.4" width="5.6" height="1.20" fill="#b0b0b0"/>
<path d="M389.40,40.2 C389.40,36.2 392.00,31.2 392.70,31.2 C393.40,31.2 396.00,36.2 396.00,40.2 L396.00,524.5 C396.00,528.5 393.40,533.5 392.70,533.5 C392.00,533.5 389.40,528.5 389.40,524.5 Z" fill="none" stroke="#000" stroke-width="1.3"/>
<g class="lab" font-size="11" fill="#333" stroke="#333" stroke-width="0.4" text-rendering="geometricPrecision">
<text transform="translate(447.7,42.25) scale(0.2476,0.29)">A04_618365_Sxo</text>
<text transform="translate(447.7,55.55) scale(0.2476,0.29)">A04_6107358_Sxo</text>
<text transform="translate(447.7,59.25) scale(0.2476,0.29)">A04_3557063_Sxn</text>
<text transform="translate(447.7,63.95) scale(0.2476,0.29)">A04_0607104_Sxn</text>
<text transform="translate(447.7,71.45) scale(0.2476,0.29)">A04_1955459_Sxa</text>
<text transform="translate(447.7,77.95) scale(0.2476,0.29)">A04_4544091_Sxx</text>
<text transform="translate(447.7,87.05) scale(0.2476,0.29)">A04_3177646_Sxx</text>
<text transform="translate(447.7,90.85) scale(0.2476,0.29)">A04_2720429_Sxn</text>
<text transform="translate(447.7,93.95) scale(0.2476,0.29)">A04_5575918_Sxa</text>
<text transform="translate(447.7,100.55) scale(0.2476,0.29)">A04_6236107_Sxa</text>
<text transform="translate(447.7,105.75) scale(0.2476,0.29)">A04_8526114_Sxe</text>
<text transform="translate(447.7,111.05) scale(0.2476,0.29)">A04_1316772_Sxe</text>
<text transform="translate(447.7,114.25) scale(0.2476,0.29)">A04_2679381_Sxa</text>
<text transform="translate(447.7,117.25) scale(0.2476,0.29)">A04_4494544_Sxo</text>
<text transform="translate(447.7,122.25) scale(0.2476,0.29)">A04_7323324_Sxa</text>
<text transform="translate(447.7,125.95) scale(0.2476,0.29)">A04_3516438_Sxe</text>
<text transform="translate(447.7,135.35) scale(0.2476,0.29)">A04_3170107_Sxe</text>
<text transform="translate(447.7,138.45) scale(0.2476,0.29)">A04_7504310_Sxa</text>
<text transform="translate(447.7,144.05) scale(0.2476,0.29)">A04_9931582_Sxa</text>
<text transform="translate(447.7,155.35) scale(0.2476,0.29)">A04_9401995_Sxn</text>
<text transform="translate(447.7,158.25) scale(0.2476,0.29)">A04_0552034_Sxa</text>
<text transform="translate(447.7,165.65) scale(0.2476,0.29)">A04_9305652_Sxx</text>
<text transform="translate(447.7,168.65) scale(0.2476,0.29)">A04_4130787_Sxe</text>
<text transform="translate(447.7,172.85) scale(0.2476,0.29)">A04_6168281_Sxx</text>
<text transform="translate(447.7,178.95) scale(0.2476,0.29)">A04_6464460_Sxa</text>
<text transform="translate(447.7,190.35) scale(0.2476,0.29)">A04_19566053_Sxo</text>
<text transform="translate(447.7,197.45) scale(0.2476,0.29)">A04_16306261_Sxn</text>
<text transform="translate(447.7,200.65) scale(0.2476,0.29)">A04_16957220_Sxx</text>
<text transform="translate(447.7,205.15) scale(0.2476,0.29)">A04_18261995_Sxx</text>
<text transform="translate(447.7,208.45) scale(0.2476,0.29)">A04_12254282_Sxe</text>
<text transform="translate(447.7,211.65) scale(0.2476,0.29)">A04_11673420_Sxx</text>
<text transform="translate(447.7,214.85) scale(0.2476,0.29)">A04_15096192_Sxn</text>
<text transform="translate(447.7,218.25) scale(0.2476,0.29)">A04_19693729_Sxa</text>
<text transform="translate(447.7,229.35) scale(0.2476,0.29)">A04_10682651_Sxa</text>
<text transform="translate(447.7,245.45) scale(0.2476,0.29)">A04_13308051_Sxa</text>
<text transform="translate(447.7,250.15) scale(0.2476,0.29)">A04_19784649_Sxn</text>
<text transform="translate(447.7,253.25) scale(0.2476,0.29)">A04_16657872_Sxa</text>
<text transform="translate(447.7,256.45) scale(0.2476,0.29)">A04_10977379_Sxx</text>
<text transform="translate(447.7,262.15) scale(0.2476,0.29)">A04_12761125_Sxn</text>
<text transform="translate(447.7,265.45) scale(0.2476,0.29)">A04_15178800_Sxn</text>
<text transform="translate(447.7,271.65) scale(0.2476,0.29)">A04_11581086_Sxa</text>
<text transform="translate(447.7,276.65) scale(0.2476,0.29)">A04_10191327_Sxa</text>
<text transform="translate(447.7,280.05) scale(0.2476,0.29)">A04_12315942_Sxo</text>
<text transform="translate(447.7,284.55) scale(0.2476,0.29)">A04_19472487_Sxo</text>
<text transform="translate(447.7,287.65) scale(0.2476,0.29)">A04_19498355_Sxa</text>
<text transform="translate(447.7,297.85) scale(0.2476,0.29)">A04_12418057.8_Sxx</text>
<text transform="translate(447.7,308.65) scale(0.2476,0.29)">A04_16592551.7_Sxe</text>
<text transform="translate(447.7,313.55) scale(0.2476,0.29)">A04_19500324.9_Sxa</text>
<text transform="translate(447.7,319.35) scale(0.2476,0.29)">A04_19000095.4_Sxn</text>
<text transform="translate(447.7,322.75) scale(0.2476,0.29)">A04_19235972.2_Sxx</text>
<text transform="translate(447.7,327.25) scale(0.2476,0.29)">A04_16400859.9_Sxx</text>
<text transform="translate(447.7,330.55) scale(0.2476,0.29)">A04_10806232.0_Sxn</text>
<text transform="translate(447.7,354.35) scale(0.2476,0.29)">A04_18986928.4_Sxx</text>
<text transform="translate(447.7,374.15) scale(0.2476,0.29)">A04_17172314.3_Sxx</text>
<text transform="translate(447.7,393.35) scale(0.2476,0.29)">A04_18443180.2_Sxx</text>
<text transform="translate(447.7,420.85) scale(0.2476,0.29)">A04_19368778.0_Sxo</text>
<text transform="translate(447.7,431.05) scale(0.2476,0.29)">A04_19192200.1_Sxx</text>
<text transform="translate(447.7,436.85) scale(0.2476,0.29)">A04_12010195.3_Sxx</text>
<text transform="translate(447.7,447.85) scale(0.2476,0.29)">A04_10014712.1_Sxe</text>
<text transform="translate(447.7,453.95) scale(0.2476,0.29)">A04_14405598.7_Sxa</text>
<text transform="translate(447.7,468.55) scale(0.2476,0.29)">A04_15708931.9_Sxo</text>
<text transform="translate(447.7,479.95) scale(0.2476,0.29)">A04_10571727.9_Sxo</text>
<text transform="translate(447.7,492.75) scale(0.2476,0.29)">A04_17211781.5_Sxo</text>
<text transform="translate(447.7,495.95) scale(0.2476,0.29)">A04_13446882.6_Sxo</text>
<text transform="translate(447.7,504.85) scale(0.2476,0.29)">A04_19582785.2_Sxa</text>
<text transform="translate(447.7,511.05) scale(0.2476,0.29)">A04_13834492.2_Sxn</text>
<text transform="translate(447.7,519.25) scale(0.2476,0.29)">A04_13412136.2_Sxa</text>
<text transform="translate(447.7,525.75) scale(0.2476,0.29)">A04_14367006.6_Sxa</text>
</g>
<g stroke="#000" stroke-width="1.4" fill="none">
<line x1="591.3" y1="40.5" x2="636.8" y2="40.5"/>
<line x1="591.3" y1="44.3" x2="636.8" y2="44.3"/>
<line x1="591.3" y1="48.9" x2="636.8" y2="48.9"/>
<line x1="591.3" y1="70.5" x2="636.8" y2="70.5"/>
<line x1="591.3" y1="77.6" x2="636.8" y2="77.6"/>
<line x1="591.3" y1="84.6" x2="636.8" y2="84.6"/>
<line x1="591.3" y1="95.8" x2="636.8" y2="95.8"/>
<line x1="591.3" y1="104.9" x2="636.8" y2="104.9"/>
<line x1="591.3" y1="125.5" x2="636.8" y2="125.5"/>
<line x1="591.3" y1="126.3" x2="636.8" y2="126.3"/>
<line x1="591.3" y1="127.3" x2="636.8" y2="127.3"/>
<line x1="591.3" y1="132.6" x2="636.8" y2="132.6"/>
<line x1="591.3" y1="144.1" x2="636.8" y2="144.1"/>
<line x1="591.3" y1="158.6" x2="636.8" y2="158.6"/>
<line x1="591.3" y1="167.1" x2="636.8" y2="167.1"/>
<line x1="591.3" y1="167.5" x2="636.8" y2="167.5"/>
<line x1="591.3" y1="181.1" x2="636.8" y2="181.1"/>
<line x1="591.3" y1="194.3" x2="636.8" y2="194.3"/>
<line x1="591.3" y1="196" x2="636.8" y2="196"/>
<line x1="591.3" y1="197.1" x2="636.8" y2="197.1"/>
<line x1="591.3" y1="199.5" x2="636.8" y2="199.5"/>
<line x1="591.3" y1="201.3" x2="636.8" y2="201.3"/>
<line x1="591.3" y1="202.2" x2="636.8" y2="202.2"/>
<line x1="591.3" y1="206" x2="636.8" y2="206"/>
<line x1="591.3" y1="209.5" x2="636.8" y2="209.5"/>
<line x1="591.3" y1="211.4" x2="636.8" y2="211.4"/>
<line x1="591.3" y1="215.3" x2="636.8" y2="215.3"/>
<line x1="591.3" y1="218" x2="636.8" y2="218"/>
<line x1="591.3" y1="219.4" x2="636.8" y2="219.4"/>
<line x1="591.3" y1="221.6" x2="636.8" y2="221.6"/>
<line x1="591.3" y1="222.5" x2="636.8" y2="222.5"/>
<line x1="591.3" y1="226.3" x2="636.8" y2="226.3"/>
<line x1="591.3" y1="247.5" x2="636.8" y2="247.5"/>
<line x1="591.3" y1="253.3" x2="636.8" y2="253.3"/>
<line x1="591.3" y1="273.2" x2="636.8" y2="273.2"/>
<line x1="591.3" y1="277.6" x2="636.8" y2="277.6"/>
<line x1="591.3" y1="278.4" x2="636.8" y2="278.4"/>
<line x1="591.3" y1="283.7" x2="636.8" y2="283.7"/>
<line x1="591.3" y1="287.5" x2="636.8" y2="287.5"/>
<line x1="591.3" y1="291.3" x2="636.8" y2="291.3"/>
<line x1="591.3" y1="292.9" x2="636.8" y2="292.9"/>
<line x1="591.3" y1="294.4" x2="636.8" y2="294.4"/>
<line x1="591.3" y1="298.6" x2="636.8" y2="298.6"/>
<line x1="591.3" y1="299.7" x2="636.8" y2="299.7"/>
<line x1="591.3" y1="303.4" x2="636.8" y2="303.4"/>
<line x1="591.3" y1="309.4" x2="636.8" y2="309.4"/>
<line x1="591.3" y1="325" x2="636.8" y2="325"/>
<line x1="591.3" y1="331.6" x2="636.8" y2="331.6"/>
<line x1="591.3" y1="332.4" x2="636.8" y2="332.4"/>
<line x1="591.3" y1="336.9" x2="636.8" y2="336.9"/>
<line x1="591.3" y1="349.4" x2="636.8" y2="349.4"/>
<line x1="591.3" y1="359.4" x2="636.8" y2="359.4"/>
<line x1="591.3" y1="359.9" x2="636.8" y2="359.9"/>
<line x1="591.3" y1="367.4" x2="636.8" y2="367.4"/>
<line x1="591.3" y1="373.2" x2="636.8" y2="373.2"/>
<line x1="591.3" y1="373.9" x2="636.8" y2="373.9"/>
<line x1="591.3" y1="376.6" x2="636.8" y2="376.6"/>
<line x1="591.3" y1="387.4" x2="636.8" y2="387.4"/>
<line x1="591.3" y1="389" x2="636.8" y2="389"/>
<line x1="591.3" y1="399.3" x2="636.8" y2="399.3"/>
<line x1="591.3" y1="400" x2="636.8" y2="400"/>
<line x1="591.3" y1="400.6" x2="636.8" y2="400.6"/>
<line x1="591.3" y1="407" x2="636.8" y2="407"/>
<line x1="591.3" y1="408.5" x2="636.8" y2="408.5"/>
<line x1="591.3" y1="414.6" x2="636.8" y2="414.6"/>
<line x1="591.3" y1="416" x2="636.8" y2="416"/>
<line x1="591.3" y1="417.8" x2="636.8" y2="417.8"/>
<line x1="591.3" y1="435.3" x2="636.8" y2="435.3"/>
<line x1="591.3" y1="454.4" x2="636.8" y2="454.4"/>
<line x1="591.3" y1="456.3" x2="636.8" y2="456.3"/>
<line x1="591.3" y1="472.9" x2="636.8" y2="472.9"/>
<line x1="641.2" y1="40.5" x2="664.5" y2="40.5"/>
<line x1="641.2" y1="44.3" x2="664.5" y2="44.3"/>
<line x1="641.2" y1="48.9" x2="664.5" y2="48.9"/>
<line x1="641.2" y1="70.5" x2="664.5" y2="70.5"/>
<line x1="641.2" y1="77.6" x2="664.5" y2="77.6"/>
<line x1="641.2" y1="84.6" x2="664.5" y2="84.6"/>
<line x1="641.2" y1="95.8" x2="664.5" y2="95.8"/>
<line x1="641.2" y1="104.9" x2="664.5" y2="104.9"/>
<line x1="641.2" y1="125.5" x2="664.5" y2="125.5"/>
<polyline points="641.2,126.3 646.8,126.3 658.2,128.7 664.5,128.7"/>
<polyline points="641.2,127.3 646.8,127.3 658.2,131.8 664.5,131.8"/>
<polyline points="641.2,132.6 646.8,132.6 658.2,135.2 664.5,135.2"/>
<line x1="641.2" y1="144.1" x2="664.5" y2="144.1"/>
<line x1="641.2" y1="158.6" x2="664.5" y2="158.6"/>
<line x1="641.2" y1="167.1" x2="664.5" y2="167.1"/>
<polyline points="641.2,167.5 646.8,167.5 658.2,170.2 664.5,170.2"/>
<line x1="641.2" y1="181.1" x2="664.5" y2="181.1"/>
<line x1="641.2" y1="194.3" x2="664.5" y2="194.3"/>
<polyline points="641.2,196 646.8,196 658.2,197.6 664.5,197.6"/>
<polyline points="641.2,197.1 646.8,197.1 658.2,200.8 664.5,200.8"/>
<polyline points="641.2,199.5 646.8,199.5 658.2,203.9 664.5,203.9"/>
<polyline points="641.2,201.3 646.8,201.3 658.2,207.1 664.5,207.1"/>
<polyline points="641.2,202.2 646.8,202.2 658.2,210.3 664.5,210.3"/>
<polyline points="641.2,206 646.8,206 658.2,213.5 664.5,213.5"/>
<polyline points="641.2,209.5 646.8,209.5 658.2,216.6 664.5,216.6"/>
<polyline points="641.2,211.4 646.8,211.4 658.2,219.8 664.5,219.8"/>
<polyline points="641.2,215.3 646.8,215.3 658.2,223 664.5,223"/>
<polyline points="641.2,218 646.8,218 658.2,226 664.5,226"/>
<polyline points="641.2,219.4 646.8,219.4 658.2,229.2 664.5,229.2"/>
<polyline points="641.2,221.6 646.8,221.6 658.2,232.3 664.5,232.3"/>
<polyline points="641.2,222.5 646.8,222.5 658.2,235.5 664.5,235.5"/>
<polyline points="641.2,226.3 646.8,226.3 658.2,238.4 664.5,238.4"/>
<line x1="641.2" y1="247.5" x2="664.5" y2="247.5"/>
<line x1="641.2" y1="253.3" x2="664.5" y2="253.3"/>
<line x1="641.2" y1="273.2" x2="664.5" y2="273.2"/>
<line x1="641.2" y1="277.6" x2="664.5" y2="277.6"/>
<polyline points="641.2,278.4 646.8,278.4 658.2,280.8 664.5,280.8"/>
<line x1="641.2" y1="283.7" x2="664.5" y2="283.7"/>
<line x1="641.2" y1="287.5" x2="664.5" y2="287.5"/>
<line x1="641.2" y1="291.3" x2="664.5" y2="291.3"/>
<polyline points="641.2,292.9 646.8,292.9 658.2,294.4 664.5,294.4"/>
<polyline points="641.2,294.4 646.8,294.4 658.2,297.6 664.5,297.6"/>
<polyline points="641.2,298.6 646.8,298.6 658.2,300.7 664.5,300.7"/>
<polyline points="641.2,299.7 646.8,299.7 658.2,303.9 664.5,303.9"/>
<polyline points="641.2,303.4 646.8,303.4 658.2,307.1 664.5,307.1"/>
<polyline points="641.2,309.4 646.8,309.4 658.2,310.2 664.5,310.2"/>
<line x1="641.2" y1="325" x2="664.5" y2="325"/>
<line x1="641.2" y1="331.6" x2="664.5" y2="331.6"/>
<polyline points="641.2,332.4 646.8,332.4 658.2,334.7 664.5,334.7"/>
<polyline points="641.2,336.9 646.8,336.9 658.2,337.6 664.5,337.6"/>
<line x1="641.2" y1="349.4" x2="664.5" y2="349.4"/>
<line x1="641.2" y1="359.4" x2="664.5" y2="359.4"/>
<polyline points="641.2,359.9 646.8,359.9 658.2,362.3 664.5,362.3"/>
<line x1="641.2" y1="367.4" x2="664.5" y2="367.4"/>
<line x1="641.2" y1="373.2" x2="664.5" y2="373.2"/>
<polyline points="641.2,373.9 646.8,373.9 658.2,376.3 664.5,376.3"/>
<polyline points="641.2,376.6 646.8,376.6 658.2,379.5 664.5,379.5"/>
<line x1="641.2" y1="387.4" x2="664.5" y2="387.4"/>
<polyline points="641.2,389 646.8,389 658.2,390.5 664.5,390.5"/>
<line x1="641.2" y1="399.3" x2="664.5" y2="399.3"/>
<polyline points="641.2,400 646.8,400 658.2,402.4 664.5,402.4"/>
<polyline points="641.2,400.6 646.8,400.6 658.2,405.5 664.5,405.5"/>
<polyline points="641.2,407 646.8,407 658.2,408.8 664.5,408.8"/>
<polyline points="641.2,408.5 646.8,408.5 658.2,411.8 664.5,411.8"/>
<line x1="641.2" y1="414.6" x2="664.5" y2="414.6"/>
<polyline points="641.2,416 646.8,416 658.2,418 664.5,418"/>
<polyline points="641.2,417.8 646.8,417.8 658.2,421.1 664.5,421.1"/>
<line x1="641.2" y1="435.3" x2="664.5" y2="435.3"/>
<line x1="641.2" y1="454.4" x2="664.5" y2="454.4"/>
<polyline points="641.2,456.3 646.8,456.3 658.2,457.9 664.5,457.9"/>
<line x1="641.2" y1="472.9" x2="664.5" y2="472.9"/>
</g>
<rect x="591.3" y="195.3" width="45.5" height="2.30" fill="#777"/>
<rect x="641.2" y="195.3" width="5.6" height="2.30" fill="#777"/>
<rect x="591.3" y="210.4" width="45.5" height="2.10" fill="#777"/>
<rect x="641.2" y="210.4" width="5.6" height="2.10" fill="#777"/>
<rect x="591.3" y="214.3" width="45.5" height="2.10" fill="#444"/>
<rect x="641.2" y="214.3" width="5.6" height="2.10" fill="#444"/>
<rect x="591.3" y="217.3" width="45.5" height="1.30" fill="#888"/>
<rect x="641.2" y="217.3" width="5.6" height="1.30" fill="#888"/>
<rect x="591.3" y="292.0" width="45.5" height="2.40" fill="#6a6a6a"/>
<rect x="641.2" y="292.0" width="5.6" height="2.40" fill="#6a6a6a"/>
<rect x="591.3" y="406.4" width="45.5" height="2.00" fill="#333"/>
<rect x="641.2" y="406.4" width="5.6" height="2.00" fill="#333"/>
<rect x="591.3" y="414.0" width="45.5" height="4.30" fill="#333"/>
<rect x="641.2" y="414.0" width="5.6" height="4.30" fill="#333"/>
<path d="M610.80,40.5 C610.80,36.5 613.40,31.5 614.10,31.5 C614.80,31.5 617.40,36.5 617.40,40.5 L617.40,473.0 C617.40,477.0 614.80,482.0 614.10,482.0 C613.40,482.0 610.80,477.0 610.80,473.0 Z" fill="none" stroke="#000" stroke-width="1.3"/>
<g class="lab" font-size="11" fill="#333" stroke="#333" stroke-width="0.4" text-rendering="geometricPrecision">
<text transform="translate(669.0,42.25) scale(0.2476,0.31)">A09_847024_Sxa</text>
<text transform="translate(669.0,46.05) scale(0.2476,0.31)">A09_603699_Sxe</text>
<text transform="translate(669.0,50.65) scale(0.2476,0.31)">A09_393217_Sxn</text>
<text transform="translate(669.0,72.25) scale(0.2476,0.31)">A09_1541636.2_Sxn</text>
<text transform="translate(669.0,79.35) scale(0.2476,0.31)">A09_1677096.8_Sxo</text>
<text transform="translate(669.0,86.35) scale(0.2476,0.31)">A09_1506710.4_Sxa</text>
<text transform="translate(669.0,97.55) scale(0.2476,0.31)">A09_1323851.9_Sxe</text>
<text transform="translate(669.0,106.65) scale(0.2476,0.31)">A09_1837805.8_Sxn</text>
<text transform="translate(669.0,127.25) scale(0.2476,0.31)">A09_1673268.1_Sxo</text>
<text transform="translate(669.0,130.45) scale(0.2476,0.31)">A09_1504466.0_Sxe</text>
<text transform="translate(669.0,133.55) scale(0.2476,0.31)">A09_1166594.1_Sxx</text>
<text transform="translate(669.0,136.95) scale(0.2476,0.31)">A09_1468367.3_Sxa</text>
<text transform="translate(669.0,145.85) scale(0.2476,0.31)">A09_1213783.2_Sxa</text>
<text transform="translate(669.0,160.35) scale(0.2476,0.31)">A09_1674827.5_Sxo</text>
<text transform="translate(669.0,168.85) scale(0.2476,0.31)">A09_1464627.0_Sxa</text>
<text transform="translate(669.0,171.95) scale(0.2476,0.31)">A09_1534577.6_Sxo</text>
<text transform="translate(669.0,182.85) scale(0.2476,0.31)">A09_1152460.1_Sxe</text>
<text transform="translate(669.0,196.25) scale(0.2476,0.31)">A09_1528590.0_Sxe</text>
<text transform="translate(669.0,199.35) scale(0.2476,0.31)">A09_1144919.2_Sxa</text>
<text transform="translate(669.0,202.55) scale(0.2476,0.31)">A09_1275236.8_Sxa</text>
<text transform="translate(669.0,205.65) scale(0.2476,0.31)">A09_1991843.7_Sxa</text>
<text transform="translate(669.0,208.85) scale(0.2476,0.31)">A09_1817181.4_Sxa</text>
<text transform="translate(669.0,212.05) scale(0.2476,0.31)">A09_1327780.7_Sxn</text>
<text transform="translate(669.0,215.25) scale(0.2476,0.31)">A09_1273728.9_Sxn</text>
<text transform="translate(669.0,218.35) scale(0.2476,0.31)">A09_1257974.7_Sxx</text>
<text transform="translate(669.0,221.55) scale(0.2476,0.31)">A09_1661250.0_Sxo</text>
<text transform="translate(669.0,224.75) scale(0.2476,0.31)">A09_1051877.2_Sxe</text>
<text transform="translate(669.0,227.75) scale(0.2476,0.31)">A09_1362515.5_Sxx</text>
<text transform="translate(669.0,230.95) scale(0.2476,0.31)">A09_1883465.6_Sxn</text>
<text transform="translate(669.0,234.05) scale(0.2476,0.31)">A09_1804457.6_Sxo</text>
<text transform="translate(669.0,237.25) scale(0.2476,0.31)">A09_1848537.1_Sxo</text>
<text transform="translate(669.0,240.15) scale(0.2476,0.31)">A09_1354291.0_Sxo</text>
<text transform="translate(669.0,249.25) scale(0.2476,0.31)">A09_1868906.4_Sxn</text>
<text transform="translate(669.0,255.05) scale(0.2476,0.31)">A09_1003790.8_Sxx</text>
<text transform="translate(669.0,274.95) scale(0.2476,0.31)">A09_1969291.3_Sxe</text>
<text transform="translate(669.0,279.35) scale(0.2476,0.31)">A09_1721206.1_Sxx</text>
<text transform="translate(669.0,282.55) scale(0.2476,0.31)">A09_1524844.2_Sxx</text>
<text transform="translate(669.0,285.45) scale(0.2476,0.31)">A09_1050699.0_Sxn</text>
<text transform="translate(669.0,289.25) scale(0.2476,0.31)">A09_1980169.6_Sxn</text>
<text transform="translate(669.0,293.05) scale(0.2476,0.31)">A09_1106992.7_Sxn</text>
<text transform="translate(669.0,296.15) scale(0.2476,0.31)">A09_1811732.0_Sxn</text>
<text transform="translate(669.0,299.35) scale(0.2476,0.31)">A09_1001131.2_Sxn</text>
<text transform="translate(669.0,302.45) scale(0.2476,0.31)">A09_1049372.0_Sxn</text>
<text transform="translate(669.0,305.65) scale(0.2476,0.31)">A09_1214877.4_Sxo</text>
<text transform="translate(669.0,308.85) scale(0.2476,0.31)">A09_1000091.6_Sxx</text>
<text transform="translate(669.0,311.95) scale(0.2476,0.31)">A09_1492790.5_Sxo</text>
<text transform="translate(669.0,326.75) scale(0.2476,0.31)">A09_1977221.5_Sxo</text>
<text transform="translate(669.0,333.35) scale(0.2476,0.31)">A09_1676749.5_Sxa</text>
<text transform="translate(669.0,336.45) scale(0.2476,0.31)">A09_1409959.0_Sxo</text>
<text transform="translate(669.0,339.35) scale(0.2476,0.31)">A09_1949636.6_Sxa</text>
<text transform="translate(669.0,351.15) scale(0.2476,0.31)">A09_1937405.4_Sxn</text>
<text transform="translate(669.0,361.15) scale(0.2476,0.31)">A09_1629042.9_Sxo</text>
<text transform="translate(669.0,364.05) scale(0.2476,0.31)">A09_1487581.8_Sxa</text>
<text transform="translate(669.0,369.15) scale(0.2476,0.31)">A09_1763349.0_Sxe</text>
<text transform="translate(669.0,374.95) scale(0.2476,0.31)">A09_1734906.7_Sxn</text>
<text transform="translate(669.0,378.05) scale(0.2476,0.31)">A09_1185136.9_Sxe</text>
<text transform="translate(669.0,381.25) scale(0.2476,0.31)">A09_1485789.3_Sxe</text>
<text transform="translate(669.0,389.15) scale(0.2476,0.31)">A09_1331245.9_Sxa</text>
<text transform="translate(669.0,392.25) scale(0.2476,0.31)">A09_1568230.7_Sxe</text>
<text transform="translate(669.0,401.05) scale(0.2476,0.31)">A09_1157125.9_Sxo</text>
<text transform="translate(669.0,404.15) scale(0.2476,0.31)">A09_1548901.0_Sxx</text>
<text transform="translate(669.0,407.25) scale(0.2476,0.31)">A09_1979934.4_Sxa</text>
<text transform="translate(669.0,410.55) scale(0.2476,0.31)">A09_1179924.0_Sxn</text>
<text transform="translate(669.0,413.55) scale(0.2476,0.31)">A09_1326100.0_Sxo</text>
<text transform="translate(669.0,416.55) scale(0.2476,0.31)">A09_1577196.1_Sxe</text>
<text transform="translate(669.0,419.75) scale(0.2476,0.31)">A09_1459318.6_Sxx</text>
<text transform="translate(669.0,422.85) scale(0.2476,0.31)">A09_1725332.0_Sxa</text>
<text transform="translate(669.0,437.05) scale(0.2476,0.31)">A09_1508004.8_Sxo</text>
<text transform="translate(669.0,456.15) scale(0.2476,0.31)">A09_1012503.4_Sxn</text>
<text transform="translate(669.0,459.65) scale(0.2476,0.31)">A09_1971755.4_Sxe</text>
<text transform="translate(669.0,474.65) scale(0.2476,0.31)">A09_1157627.3_Sxn</text>
</g>
<line x1="93.9" y1="591.2" x2="93.9" y2="709.1" stroke="#CC94EA" stroke-width="2"/>
<rect x="90.05" y="646.70" width="7.7" height="7.0" fill="#D783FF"/>
<line x1="108.4" y1="594.9" x2="108.4" y2="702.5" stroke="#147C4E" stroke-width="2"/>
<rect x="104.55" y="660.20" width="7.7" height="7.0" fill="#008F51"/>
<line x1="122.8" y1="595.3" x2="122.8" y2="702.5" stroke="#E8868A" stroke-width="2"/>
<rect x="118.95" y="660.20" width="7.7" height="7.0" fill="#FF7E79"/>
<line x1="137.1" y1="595.7" x2="137.1" y2="702.5" stroke="#1637EC" stroke-width="2"/>
<rect x="133.25" y="660.20" width="7.7" height="7.0" fill="#0433FF"/>
<rect x="323.9" y="311.7" width="7.4" height="6.7" fill="#D783FF"/>
<rect x="323.9" y="494.2" width="7.6" height="6.9" fill="#D783FF"/>
<line x1="343.2" y1="282.7" x2="343.2" y2="418.4" stroke="#E8868A" stroke-width="2"/>
<rect x="339.35" y="308.80" width="7.7" height="7.0" fill="#FF7E79"/>
<rect x="339.35" y="349.60" width="7.7" height="7.0" fill="#FF7E79"/>
<line x1="358.7" y1="282.7" x2="358.7" y2="418.4" stroke="#1637EC" stroke-width="2"/>
<rect x="354.85" y="308.80" width="7.7" height="7.0" fill="#0433FF"/>
<rect x="354.85" y="349.60" width="7.7" height="7.0" fill="#0433FF"/>
<line x1="566.2" y1="337.1" x2="566.2" y2="408.1" stroke="#CC94EA" stroke-width="2"/>
<rect x="562.35" y="359.40" width="7.7" height="7.0" fill="#D783FF"/>
<line x1="579.7" y1="348.8" x2="579.7" y2="474.5" stroke="#E8868A" stroke-width="2"/>
<rect x="575.85" y="404.20" width="7.7" height="7.0" fill="#FF7E79"/>
<g class="lab" font-size="9.6" fill="#222" stroke="#222" stroke-width="0.22">
<rect x="394.1" y="596.0" width="11.8" height="11.0" fill="#0433FF" stroke="none"/>
<text x="408.9" y="605.9" textLength="17.3" lengthAdjust="spacingAndGlyphs">EGR</text>
<rect x="394.1" y="613.7" width="11.8" height="11.0" fill="#FF7E79" stroke="none"/>
<text x="408.9" y="623.6" textLength="10.4" lengthAdjust="spacingAndGlyphs">RF</text>
<rect x="394.1" y="631.0" width="11.8" height="11.0" fill="#008F51" stroke="none"/>
<text x="408.9" y="640.9" textLength="9.0" lengthAdjust="spacingAndGlyphs">GI</text>
<rect x="394.1" y="648.0" width="11.8" height="11.0" fill="#D783FF" stroke="none"/>
<text x="408.9" y="657.9" textLength="143.5" lengthAdjust="spacingAndGlyphs">EGR/GI (Leal-Bertioli et al. 2016)</text>
</g>
</svg></body></html>
